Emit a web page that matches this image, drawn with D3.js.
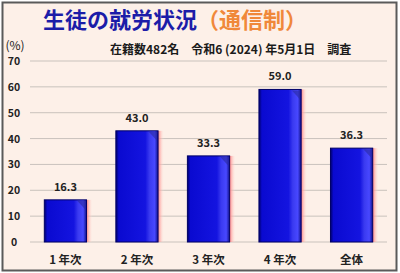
<!DOCTYPE html>
<html>
<head>
<meta charset="utf-8">
<script src="https://cdn.jsdelivr.net/npm/d3@7"></script>
<style>
  html, body { margin: 0; padding: 0; background: #fff; }
  svg { display: block; }
  text { font-family: "Noto Sans CJK JP", "Noto Sans", sans-serif; }
</style>
</head>
<body>
<div id="chart"></div>
<script>
// chart data
var categories = ["1年次", "2年次", "3年次", "4年次", "全体"];
var values = [16.3, 43.0, 33.3, 59.0, 36.3];
var yTicks = [0, 10, 20, 30, 40, 50, 60, 70];

var width = 400, height = 273;
var margin = {left: 30, right: 13, top: 61, bottom: 31};

var svg = d3.select("#chart").append("svg")
  .attr("width", width)
  .attr("height", height);

var defs = svg.append("defs");

// bar face: dark edge, deep blue, lighter right bevel
var face = defs.append("linearGradient").attr("id", "face")
  .attr("x1", "0").attr("x2", "1").attr("y1", "0").attr("y2", "0");
[["0%", "#00006a"], ["7%", "#0a0ad0"], ["70%", "#1414e0"], ["80%", "#3a3af0"], ["92%", "#4848ff"], ["100%", "#10108a"]]
  .forEach(s => face.append("stop").attr("offset", s[0]).attr("stop-color", s[1]));

var glow = defs.append("linearGradient").attr("id", "glow")
  .attr("x1", "0").attr("x2", "1").attr("y1", "0").attr("y2", "0");
[["0%", "#ff7f7f", 1], ["100%", "#fdeee6", 0]]
  .forEach(s => glow.append("stop").attr("offset", s[0]).attr("stop-color", s[1]).attr("stop-opacity", s[2]));

// background and frame
svg.append("rect").attr("width", width).attr("height", height).attr("fill", "#ffffff");
svg.append("rect")
  .attr("x", 2.5).attr("y", 2.5)
  .attr("width", width - 6).attr("height", height - 5)
  .attr("fill", "#fdf0e8")
  .attr("stroke", "#5a5a5a")
  .attr("stroke-width", 2);

var x = d3.scaleBand()
  .domain(categories)
  .range([margin.left, width - margin.right])
  .paddingInner(0.41)
  .paddingOuter(0.2);

var y = d3.scaleLinear()
  .domain([0, 70])
  .range([height - margin.bottom, margin.top]);

// grid lines
svg.append("g").selectAll("line")
  .data(yTicks)
  .enter().append("line")
    .attr("x1", margin.left).attr("x2", width - margin.right)
    .attr("y1", d => y(d)).attr("y2", d => y(d))
    .attr("stroke", "#c9c2bc")
    .attr("stroke-width", 1);

// y axis labels
svg.append("g").selectAll("text")
  .data(yTicks)
  .enter().append("text")
    .attr("x", 14)
    .attr("y", d => y(d) + 4)
    .attr("text-anchor", "middle")
    .attr("font-size", 10.5)
    .attr("font-weight", "bold")
    .attr("fill", "#222")
    .text(d => d);

svg.append("text")
  .attr("x", 15).attr("y", 50)
  .attr("text-anchor", "middle")
  .attr("font-size", 12)
  .attr("fill", "#222")
  .text("(%)");

// bars
var bar = svg.append("g").selectAll(".bar")
  .data(values)
  .enter().append("g")
    .attr("class", "bar");

bar.append("rect")
  .attr("x", (d, i) => x(categories[i]) + x.bandwidth())
  .attr("y", d => y(d))
  .attr("width", 6)
  .attr("height", d => y(0) - y(d))
  .attr("fill", "url(#glow)");

bar.append("rect")
  .attr("x", (d, i) => x(categories[i]))
  .attr("y", d => y(d))
  .attr("width", x.bandwidth())
  .attr("height", d => y(0) - y(d))
  .attr("fill", "url(#face)")
  .attr("stroke", "#000066")
  .attr("stroke-width", 1);

// top bevel highlight
bar.append("path")
  .attr("d", (d, i) => {
    var x0 = x(categories[i]), w = x.bandwidth(), t = y(d);
    return "M" + (x0 + w * 0.78) + "," + (t + 1) + " L" + (x0 + w - 1) + "," + (t + 1)
      + " L" + (x0 + w - 1) + "," + (t + 10) + " Z";
  })
  .attr("fill", "#2a2aa0")
  .attr("opacity", 0.6);

// value labels
bar.append("text")
  .attr("x", (d, i) => x(categories[i]) + x.bandwidth() / 2)
  .attr("y", d => y(d) - 9)
  .attr("text-anchor", "middle")
  .attr("font-size", 11)
  .attr("font-weight", "bold")
  .attr("fill", "#222")
  .text(d => d.toFixed(1));

// category labels
svg.append("g").selectAll("text")
  .data(categories)
  .enter().append("text")
    .attr("x", d => x(d) + x.bandwidth() / 2)
    .attr("y", 264)
    .attr("text-anchor", "middle")
    .attr("font-size", 11.5)
    .attr("font-weight", "bold")
    .attr("fill", "#222")
    .text(d => d.replace(/^(\d)/, "$1 "));

// titles
var title = svg.append("text")
  .attr("x", 43).attr("y", 28)
  .attr("font-size", 22)
  .attr("font-weight", "bold");
title.append("tspan").attr("fill", "#1c1ca8").text("生徒の就労状況");
title.append("tspan").attr("fill", "#f0883a").text("（通信制）");

svg.append("text")
  .attr("x", 110).attr("y", 54)
  .attr("font-size", 12)
  .attr("font-weight", "bold")
  .attr("fill", "#1a1a1a")
  .text("在籍数482名　令和6 (2024) 年5月1日　調査");
</script>
</body>
</html>
